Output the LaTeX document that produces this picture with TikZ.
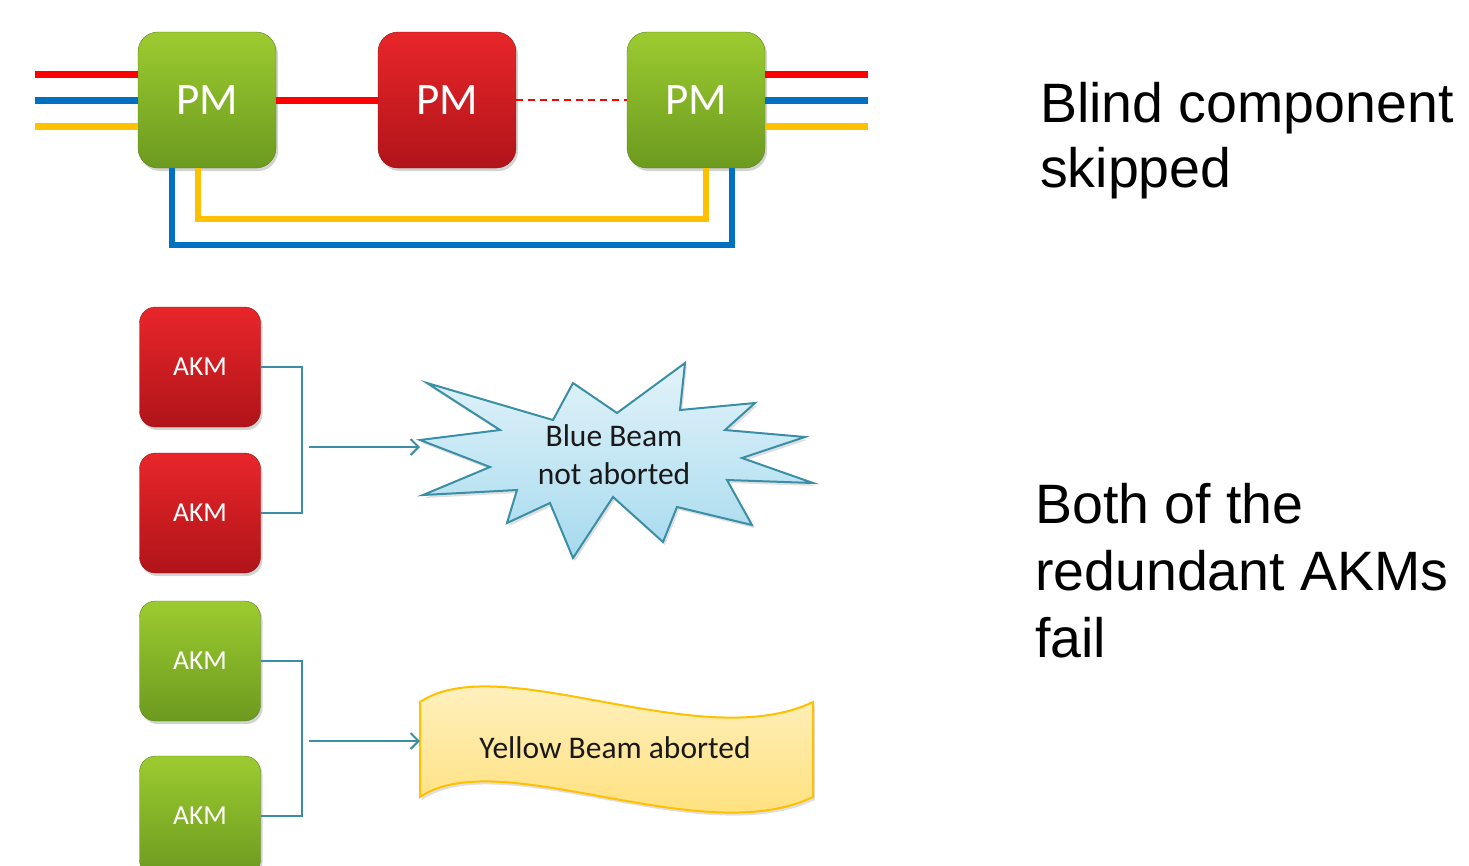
\documentclass[tikz,border=0pt]{standalone}
\usepackage{fontspec}
\setmainfont{Liberation Sans}
\newfontfamily\calfont{Carlito}
\usetikzlibrary{arrows.meta,shadows}
\definecolor{rl}{HTML}{FF0000}
\definecolor{bl}{HTML}{0070C0}
\definecolor{yl}{HTML}{FFC000}
\definecolor{tealc}{HTML}{3B8EA5}
\definecolor{gtop}{HTML}{9CCB30}
\definecolor{gbot}{HTML}{6C9A1F}
\definecolor{rtop}{HTML}{E8262A}
\definecolor{rbot}{HTML}{B01419}
\definecolor{startop}{HTML}{E2F3FA}
\definecolor{starbot}{HTML}{A6DAEE}
\definecolor{startdraw}{HTML}{3A8FA6}
\definecolor{bantop}{HTML}{FFF4CF}
\definecolor{banbot}{HTML}{FFDD6E}
\tikzset{
  box/.style={rounded corners=20pt, inner sep=0pt, text=white,
    drop shadow={opacity=0.35, shadow xshift=2pt, shadow yshift=-3pt}},
  pmbox/.style={box, minimum width=138pt, minimum height=136pt,
    font=\calfont\fontsize{45}{45}\selectfont},
  akmbox/.style={box, rounded corners=16pt, minimum width=121pt, minimum height=120pt,
    font=\calfont\fontsize{27.5}{27.5}\selectfont},
  green/.style={top color=gtop, bottom color=gbot, draw=gbot!85!black, line width=0.4pt},
  red/.style={top color=rtop, bottom color=rbot, draw=rbot!85!black, line width=0.4pt},
  beam/.style={line width=7pt},
  conn/.style={draw=tealc, line width=2pt},
  arr/.style={conn, -{Straight Barb[length=8pt,width=16pt,line width=2pt]}},
  bigtxt/.style={anchor=north west, inner sep=0pt, align=left, text=black},
  shapetxt/.style={align=center, text=black!90, font=\calfont\fontsize{31.5}{38}\selectfont},
}
\begin{document}
\begin{tikzpicture}[x=1pt,y=-1pt]
\useasboundingbox (0,0) rectangle (1469,865);
\clip (0,0) rectangle (1469,865);
% PM boxes
\node[pmbox, green] (pm1) at (207,100) {PM};
\node[pmbox, red] (pm2) at (447,100) {PM};
\node[pmbox, green] (pm3) at (696,100) {PM};
% beam lines
\coordinate (lr) at (35,74);
\coordinate (lb) at (35,100);
\coordinate (ly) at (35,126);
\coordinate (rr) at (868,74);
\coordinate (rb) at (868,100);
\coordinate (ry) at (868,126);
\draw[beam, rl] (lr) -- (lr -| pm1.west);
\draw[beam, bl] (lb) -- (lb -| pm1.west);
\draw[beam, yl] (ly) -- (ly -| pm1.west);
\draw[beam, rl] (rr) -- (rr -| pm3.east);
\draw[beam, bl] (rb) -- (rb -| pm3.east);
\draw[beam, yl] (ry) -- (ry -| pm3.east);
\draw[beam, rl] (pm1.east) -- (pm2.west);
\draw[rl, line width=2pt, dash pattern=on 7pt off 5pt] (pm2.east) -- (pm3.west);
\draw[line width=6pt, yl] ([xshift=-9pt]pm1.south) -- ++(0,51) -| ([xshift=10pt]pm3.south);
\draw[line width=6pt, bl] ([xshift=-35pt]pm1.south) -- ++(0,77) -| ([xshift=36pt]pm3.south);
% AKM boxes
\node[akmbox, red] (a1) at (200,367) {AKM};
\node[akmbox, red] (a2) at (200,513) {AKM};
\node[akmbox, green] (a3) at (200,661) {AKM};
\node[akmbox, green] (a4) at (200,816) {AKM};
\draw[conn] (a1.east) -- ++(41,0) |- (a2.east);
\draw[conn] (a3.east) -- ++(41,0) |- (a4.east);
% explosion
\draw[draw=startdraw, line width=2pt, line join=miter, top color=startop, bottom color=starbot,
  drop shadow={opacity=0.25, shadow xshift=2pt, shadow yshift=-3pt}]
  (420,440) -- (500,430) -- (427,383) -- (553,420) -- (573,383) -- (617,413)
  -- (685,363) -- (680,410) -- (755,403) -- (725,430) -- (805,437) -- (742,458)
  -- (813,483) -- (727,480) -- (752,525) -- (677,507) -- (663,542) -- (613,497)
  -- (573,558) -- (550,503) -- (507,523) -- (517,490) -- (423,495) -- (490,467) -- cycle;
\node[shapetxt] (blue) at (614,455) {Blue Beam\\not aborted};
% wave banner
\draw[draw=yl, line width=2pt, top color=bantop, bottom color=banbot,
  drop shadow={opacity=0.25, shadow xshift=2pt, shadow yshift=-3pt}]
  (420,702) .. controls (500,648) and (700,756) .. (813,702)
  -- (813,797) .. controls (700,851) and (500,743) .. (420,797) -- cycle;
\node[shapetxt] (yellow) at (615,748) {Yellow Beam aborted};
% arrows
\coordinate (bs) at (309,447);
\coordinate (be) at (420,447);
\coordinate (ys) at (309,741);
\coordinate (ye) at (420,741);
\draw[arr] (bs) -- (be);
\draw[arr] (ys) -- (ye);
% right texts
\node[bigtxt, font=\fontsize{55.5}{65}\selectfont] (t1) at (1040,82) {Blind component\\skipped};
\node[bigtxt, font=\fontsize{55.5}{67}\selectfont] (t2) at (1035,483) {Both of the\\redundant AKMs\\fail};
\end{tikzpicture}
\end{document}
